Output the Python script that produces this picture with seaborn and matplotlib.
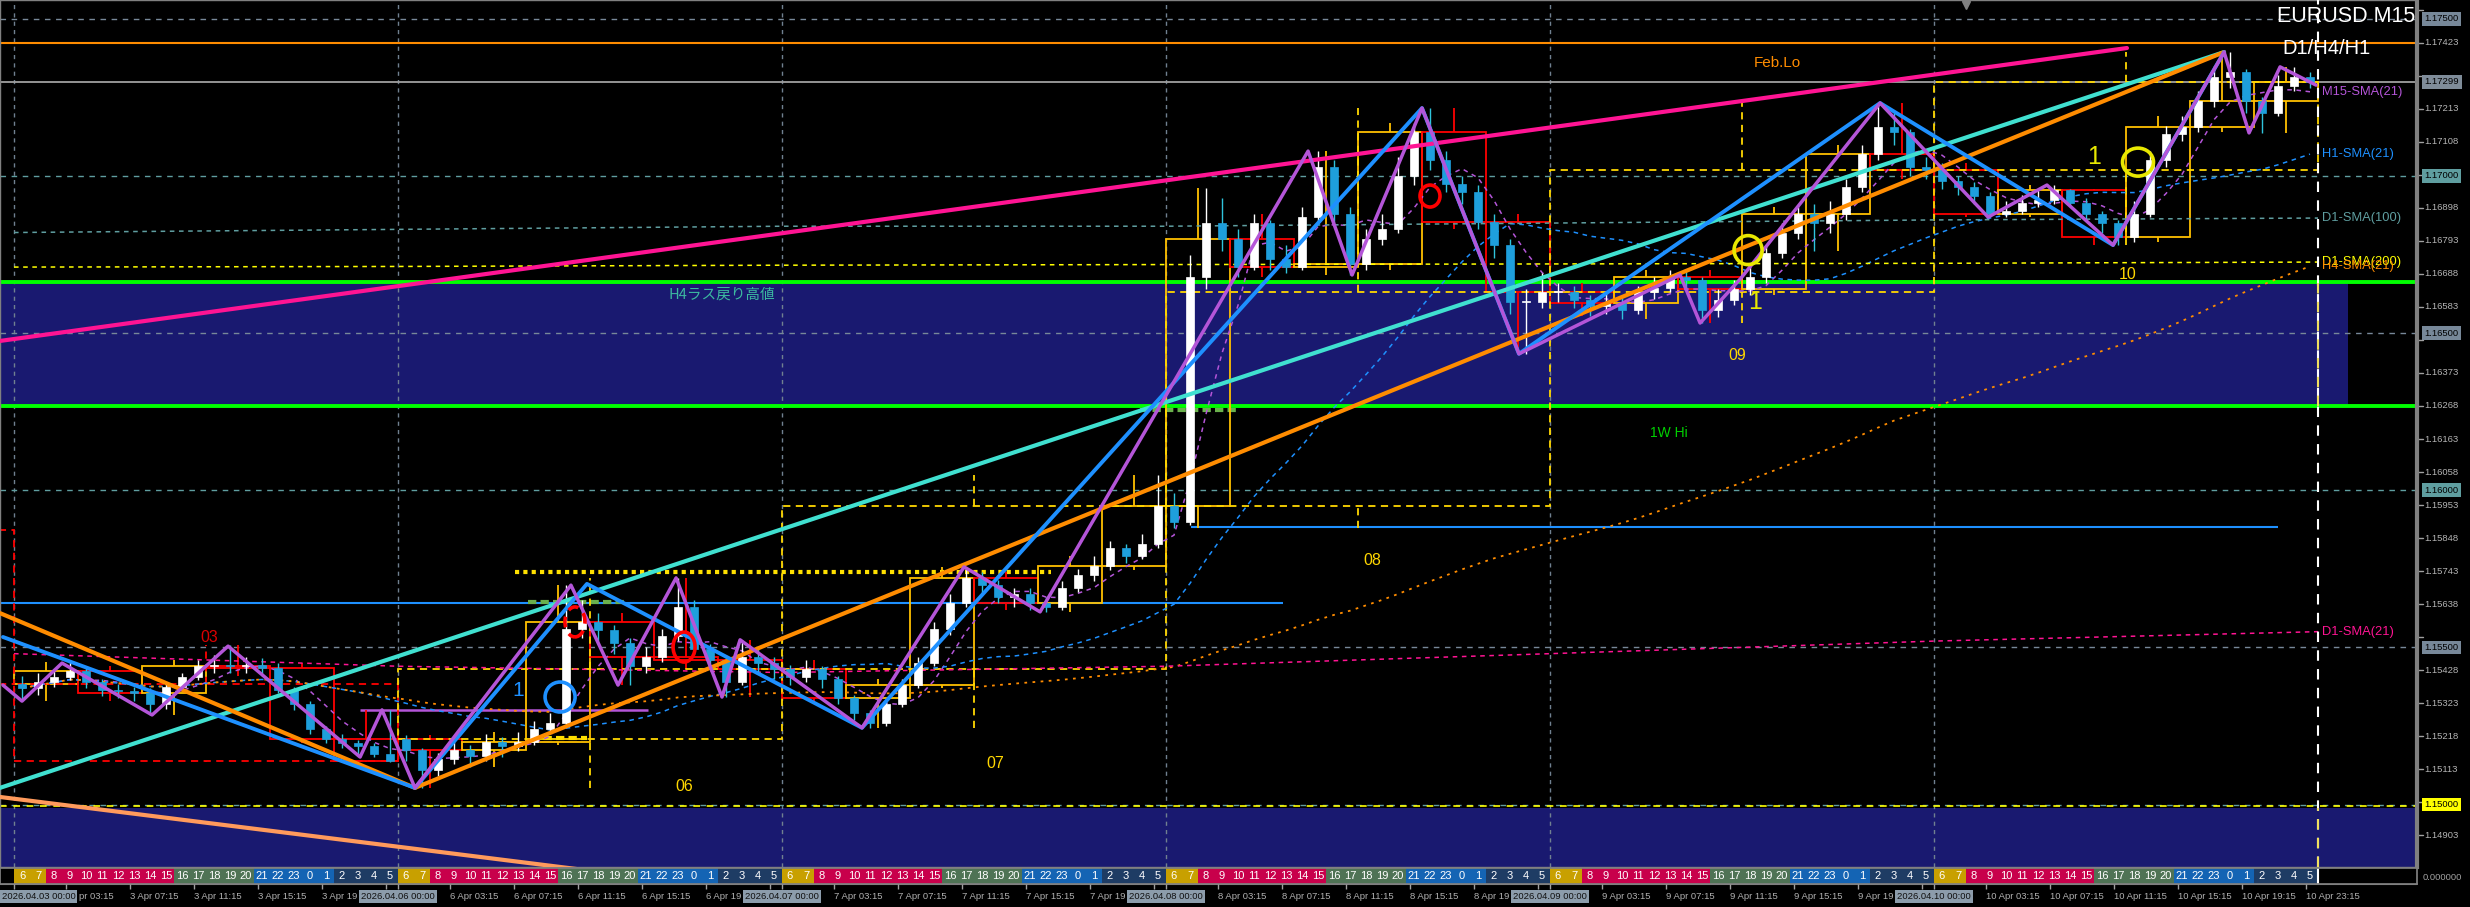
import numpy as np
import pandas as pd
import seaborn as sns
import matplotlib.pyplot as plt
import matplotlib.transforms as mtransforms
from matplotlib.patches import Rectangle, Ellipse

sns.set_theme(style="dark")
plt.rcParams['font.family'] = ['Liberation Sans', 'DejaVu Sans']

# ---------------- data: hourly bars, server time (hour 0 = 3 Apr 00:00) ----------------
day_names = ['03', '06', '07', '08', '09', '10']
first_open = 1.15385
monday_open = 1.15210

closes = [
    # 3 Apr
    1.15370, 1.15390, 1.15405, 1.15425, 1.15390, 1.15365, 1.15360, 1.15355, 1.15320, 1.15375, 1.15405, 1.15440,
    1.15445, 1.15440, 1.15445, 1.15435, 1.15365, 1.15320, 1.15240, 1.15210, 1.15195, 1.15185, 1.15160, 1.15140,
    # 6 Apr
    1.15175, 1.15110, 1.15145, 1.15175, 1.15155, 1.15200, 1.15185, 1.15200, 1.15240, 1.15260, 1.15560, 1.15580,
    1.15555, 1.15515, 1.15440, 1.15470, 1.15535, 1.15630, 1.15495, 1.15460, 1.15390, 1.15470, 1.15450, 1.15430,
    # 7 Apr
    1.15405, 1.15430, 1.15400, 1.15340, 1.15290, 1.15260, 1.15320, 1.15380, 1.15450, 1.15560, 1.15640, 1.15720,
    1.15700, 1.15660, 1.15670, 1.15640, 1.15630, 1.15690, 1.15730, 1.15760, 1.15815, 1.15790, 1.15830, 1.15950,
    # 8 Apr
    1.15900, 1.16680, 1.16850, 1.16800, 1.16710, 1.16850, 1.16735, 1.16710, 1.16870, 1.17030, 1.16880, 1.16720,
    1.16800, 1.16830, 1.17000, 1.17140, 1.17050, 1.16975, 1.16950, 1.16855, 1.16780, 1.16600, 1.16600, 1.16630,
    # 9 Apr
    1.16630, 1.16605, 1.16585, 1.16595, 1.16575, 1.16630, 1.16645, 1.16680, 1.16670, 1.16575, 1.16605, 1.16640,
    1.16680, 1.16755, 1.16820, 1.16880, 1.16850, 1.16880, 1.16965, 1.17070, 1.17155, 1.17140, 1.17030, 1.17020,
    # 10 Apr
    1.16985, 1.16965, 1.16935, 1.16880, 1.16890, 1.16915, 1.16925, 1.16955, 1.16915, 1.16880, 1.16850, 1.16805,
    1.16880, 1.17050, 1.17135, 1.17155, 1.17240, 1.17315, 1.17330, 1.17240, 1.17200, 1.17285, 1.17315, 1.17299,
]
highs = [
    1.15410, 1.15420, 1.15430, 1.15452, 1.15440, 1.15400, 1.15385, 1.15375, 1.15370, 1.15390, 1.15420, 1.15460,
    1.15475, 1.15506, 1.15470, 1.15465, 1.15450, 1.15375, 1.15330, 1.15250, 1.15225, 1.15205, 1.15195, 1.15302,
    1.15220, 1.15180, 1.15165, 1.15200, 1.15190, 1.15225, 1.15215, 1.15230, 1.15265, 1.15290, 1.15698, 1.15650,
    1.15610, 1.15570, 1.15530, 1.15500, 1.15560, 1.15721, 1.15650, 1.15510, 1.15475, 1.15524, 1.15495, 1.15470,
    1.15445, 1.15460, 1.15440, 1.15410, 1.15350, 1.15300, 1.15335, 1.15400, 1.15470, 1.15580, 1.15670, 1.15756,
    1.15740, 1.15715, 1.15690, 1.15690, 1.15660, 1.15710, 1.15750, 1.15790, 1.15840, 1.15830, 1.15860, 1.16049,
    1.15990, 1.16750, 1.16962, 1.16930, 1.16830, 1.16880, 1.16860, 1.16780, 1.16900, 1.17079, 1.17050, 1.16900,
    1.16830, 1.16880, 1.17060, 1.17170, 1.17216, 1.17080, 1.17000, 1.16970, 1.16880, 1.16800, 1.16640, 1.16690,
    1.16660, 1.16650, 1.16620, 1.16630, 1.16620, 1.16650, 1.16680, 1.16700, 1.16700, 1.16680, 1.16640, 1.16670,
    1.16720, 1.16780, 1.16850, 1.16900, 1.16910, 1.16920, 1.16990, 1.17100, 1.17232, 1.17200, 1.17150, 1.17060,
    1.17040, 1.17000, 1.16980, 1.16950, 1.16920, 1.16940, 1.16960, 1.16971, 1.16960, 1.16930, 1.16890, 1.16860,
    1.16920, 1.17080, 1.17160, 1.17190, 1.17270, 1.17350, 1.17394, 1.17340, 1.17250, 1.17320, 1.17347, 1.17330,
]
lows = [
    1.15330, 1.15350, 1.15375, 1.15395, 1.15370, 1.15345, 1.15340, 1.15330, 1.15286, 1.15305, 1.15360, 1.15395,
    1.15420, 1.15420, 1.15420, 1.15410, 1.15355, 1.15300, 1.15225, 1.15195, 1.15180, 1.15160, 1.15150, 1.15135,
    1.15140, 1.15053, 1.15090, 1.15130, 1.15120, 1.15140, 1.15150, 1.15170, 1.15190, 1.15225, 1.15250, 1.15530,
    1.15520, 1.15480, 1.15381, 1.15420, 1.15455, 1.15520, 1.15480, 1.15430, 1.15342, 1.15380, 1.15420, 1.15400,
    1.15380, 1.15390, 1.15370, 1.15320, 1.15270, 1.15244, 1.15250, 1.15310, 1.15370, 1.15440, 1.15540, 1.15630,
    1.15670, 1.15640, 1.15630, 1.15620, 1.15613, 1.15620, 1.15675, 1.15710, 1.15745, 1.15770, 1.15780, 1.15815,
    1.15880, 1.15890, 1.16640, 1.16760, 1.16680, 1.16700, 1.16700, 1.16690, 1.16700, 1.16850, 1.16850, 1.16685,
    1.16700, 1.16780, 1.16820, 1.16970, 1.17020, 1.16950, 1.16910, 1.16830, 1.16740, 1.16560, 1.16434, 1.16580,
    1.16600, 1.16580, 1.16555, 1.16560, 1.16545, 1.16560, 1.16610, 1.16630, 1.16640, 1.16532, 1.16550, 1.16590,
    1.16620, 1.16660, 1.16740, 1.16800, 1.16760, 1.16820, 1.16860, 1.16950, 1.17050, 1.17100, 1.17000, 1.16990,
    1.16960, 1.16940, 1.16910, 1.16869, 1.16870, 1.16880, 1.16900, 1.16910, 1.16900, 1.16860, 1.16820, 1.16780,
    1.16790, 1.16870, 1.17030, 1.17110, 1.17140, 1.17220, 1.17280, 1.17200, 1.17137, 1.17190, 1.17270, 1.17280,
]

# previous day (2 Apr), only its right edge is on screen
prev_day_open, prev_day_close = 1.15873, 1.15385

# zigzags (hour, price)
zz_m15_t = [-0.69, 0.5, 3.0, 8.63, 13.38, 21.63, 23.0, 25.06, 34.81, 37.75, 41.38, 44.25, 45.38,
            53.0, 59.38, 64.13, 80.88, 83.63, 88.0, 94.06, 104.13, 105.38, 107.94, 116.63,
            123.38, 127.06, 131.19, 138.13, 139.69, 141.63, 143.88]
zz_m15_p = [1.15380, 1.15329, 1.15450, 1.15285, 1.15504, 1.15151, 1.15301, 1.15053, 1.15698, 1.15380,
            1.15721, 1.15342, 1.15524, 1.15244, 1.15756, 1.15613, 1.17079, 1.16685, 1.17216, 1.16434,
            1.16685, 1.16532, 1.16675, 1.17232, 1.16869, 1.16971, 1.16780, 1.17394, 1.17137, 1.17347, 1.17289]
zz_h1_t = [-0.69, 25.06, 35.81, 53.0, 88.0, 94.06, 116.63, 131.19, 138.13]
zz_h1_p = [1.15533, 1.15053, 1.15702, 1.15244, 1.17216, 1.16434, 1.17232, 1.16780, 1.17394]

# trend lines (hour, price)
cyan_t, cyan_p = [-0.875, 138.13], [1.15053, 1.17394]
orange_up_t, orange_up_p = [25.06, 138.13], [1.15053, 1.17394]
orange_dn_t, orange_dn_p = [-0.875, 25.06], [1.15609, 1.15053]
salmon_t, salmon_p = [-0.875, 40.0], [1.15024, 1.14764]
pink_t, pink_p = [-0.875, 132.06], [1.16475, 1.17407]

# horizontal levels
feb_lo = 1.17423
bid = 1.17299
round_levels = [1.17500, 1.17000, 1.16500, 1.16000, 1.15500, 1.15000]
round_colors = ['#778899', '#5f9ea0', '#778899', '#5f9ea0', '#778899', '#5f9ea0']
zone_hi, zone_lo, zone_end = 1.16663, 1.16268, 145.9
low_zone_top = 1.14989
blue_levels = [(1.15641, -0.875, 79.3), (1.15883, 73.56, 141.5)]
purple_level = (1.15301, 21.6, 39.6)
yellow_dotted = (1.15740, 31.3, 64.8)
green_dashed = [(1.15644, 32.1, 38.4), (1.16255, 70.4, 76.4)]
yellow_dashed = (1.15212, 32.3, 35.8)

# daily SMAs (value at each day boundary)
d1_t = [0, 24, 48, 72, 96, 120, 144]
d1_sma21 = [1.15480, 1.15440, 1.15420, 1.15440, 1.15480, 1.15520, 1.15550]
d1_sma100 = [1.16820, 1.16830, 1.16840, 1.16840, 1.16850, 1.16860, 1.16866]
d1_sma200 = [1.16710, 1.16712, 1.16716, 1.16718, 1.16720, 1.16722, 1.16726]

# day labels (hour, price)
day_lbl_t = [12.2, 41.9, 61.3, 84.9, 107.7, 132.1]
day_lbl_p = [1.15530, 1.15056, 1.15129, 1.15775, 1.16430, 1.16685]

# circles: hour, price, width px, height px, color, dashed
circles = [(34.13, 1.15342, 30, 30, '#1e90ff', False),
           (35.06, 1.15581, 20, 30, '#ff0000', True),
           (41.88, 1.15501, 22, 30, '#ff0000', False),
           (88.50, 1.16936, 20, 22, '#ff0000', False),
           (108.38, 1.16764, 28, 29, '#e8e800', False),
           (132.75, 1.17044, 31, 28, '#e8e800', False)]
ones = [(31.5, 1.15364, '#1e90ff', 15), (108.8, 1.16599, '#e8e800', 18), (130.0, 1.17060, '#e8e800', 18)]

# ---------------- frame ----------------
W, H = 2470, 907
PX_H = 1 / 16.0            # hours per pixel
PX_P = 0.00105 / 33.0      # price per pixel
X0, X1 = -0.875, 150.1875
Y0, Y1 = 1.148012, 1.175598

fig = plt.figure(figsize=(W / 100, H / 100), dpi=100, facecolor='black')
ax = fig.add_axes([0, 40 / H, 2417 / W, 867 / H])
ax.set_facecolor('black')
ax.set_xlim(X0, X1)
ax.set_ylim(Y0, Y1)
ax.set_xticks([])
ax.set_yticks([])
ax.grid(False)
for s in ax.spines.values():
    s.set_color('#808080')
    s.set_linewidth(1)
ax.spines['right'].set_linewidth(3)

o = np.array([first_open] + closes[:-1])
o[24] = monday_open
c = np.array(closes)
hi = np.maximum(np.array(highs), np.maximum(o, c))
lo = np.minimum(np.array(lows), np.minimum(o, c))
hours = np.arange(len(c))
bars = pd.DataFrame({'t': hours, 'o': o, 'h': hi, 'l': lo, 'c': c})

# zones
ax.add_patch(Rectangle((X0, zone_lo), zone_end - X0, zone_hi - zone_lo, color='#191970', zorder=0, lw=0))
ax.add_patch(Rectangle((X0, Y0 - 0.01), X1 - X0, low_zone_top - Y0 + 0.01, color='#191970', zorder=0, lw=0))

# grid: day separators and round levels
for d in range(len(day_names)):
    ax.axvline(24 * d, color='#708090', ls=(0, (3, 3)), lw=1, zorder=1)
for lvl, col in zip(round_levels, round_colors):
    ax.axhline(lvl, color=col, ls=(0, (4, 4)), lw=1, zorder=1)
ax.axhline(1.15000 - 1.5 * PX_P, color='#ffff00', ls=(0, (4, 4)), lw=1.2, zorder=1)
ax.axhline(feb_lo, color='#ff8c00', lw=1.5, zorder=1)
ax.axhline(bid, color='#a0a0a0', lw=1.3, zorder=1)
ax.axhline(zone_hi, color='#00ff00', lw=2.8, zorder=2)
ax.axhline(zone_lo, color='#00ff00', lw=2.8, zorder=2)

for lvl, t0, t1 in blue_levels:
    ax.hlines(lvl, t0, t1, color='#1e90ff', lw=1.5, zorder=2)
ax.hlines(purple_level[0], purple_level[1], purple_level[2], color='#b455d8', lw=1.8, zorder=2)
ax.hlines(yellow_dotted[0], yellow_dotted[1], yellow_dotted[2], color='#ffe000', lw=3, ls=(0, (1, 1)), zorder=2)
for lvl, t0, t1 in green_dashed:
    ax.hlines(lvl, t0, t1, color='#6ab04c', lw=3, ls=(0, (2, 1)), zorder=2)
ax.hlines(yellow_dashed[0], yellow_dashed[1], yellow_dashed[2], color='#ffe000', lw=3, ls=(0, (2, 1)), zorder=2)


# higher-timeframe candles: D1 dashed, H4 solid
def htf_boxes(group, width, dashed):
    g = bars.groupby(group)
    agg = pd.DataFrame({'t': g.t.first(), 'o': g.o.first(), 'c': g.c.last(), 'h': g.h.max(), 'l': g.l.min()})
    ls = (0, (4, 3)) if dashed else '-'
    for _, r in agg.iterrows():
        col = '#ffd700' if r.c >= r.o else '#ff0000'
        if not dashed:
            col = '#ffc000' if r.c >= r.o else '#ff0000'
        top, bot = max(r.o, r.c), min(r.o, r.c)
        ax.add_patch(Rectangle((r.t, bot), width, max(top - bot, PX_P), fill=False, ec=col,
                               lw=1.3, ls=ls, zorder=2))
        mid = r.t + width / 2
        ax.vlines(mid, top, r.h, color=col, lw=1.3, ls=ls, zorder=2)
        ax.vlines(mid, r.l, bot, color=col, lw=1.3, ls=ls, zorder=2)


htf_boxes(bars.t // 4, 4, False)
htf_boxes(bars.t // 24, 24, True)
ax.add_patch(Rectangle((-24, prev_day_close), 24, prev_day_open - prev_day_close, fill=False,
                       ec='#ff0000', lw=1.3, ls=(0, (4, 3)), zorder=2))

for d, (name, t, p) in enumerate(zip(day_names, day_lbl_t, day_lbl_p)):
    col = '#ffd700' if c[24 * d + 23] >= o[24 * d] else '#dd0000'
    ax.text(t, p, name, color=col, fontsize=11.5, ha='center', va='center', zorder=6)

# moving averages
close_s = pd.Series(c, index=hours + 0.5)
sma_m15 = close_s.rolling(5, min_periods=1).mean()
sma_h1 = close_s.rolling(21, min_periods=1).mean()
sma_h4 = close_s.rolling(84, min_periods=1).mean()
sns.lineplot(x=sma_m15.index, y=sma_m15.values, ax=ax, color='#b455d8', lw=1.1, ls=(0, (3, 3)), zorder=3)
sns.lineplot(x=sma_h1.index, y=sma_h1.values, ax=ax, color='#1e90ff', lw=1.1, ls=(0, (3, 3)), zorder=3)
sns.lineplot(x=sma_h4.index, y=sma_h4.values, ax=ax, color='#ff8c00', lw=1.3, ls=(0, (1.5, 3)), zorder=3)
sns.lineplot(x=d1_t, y=d1_sma21, ax=ax, color='#ff1493', lw=1.1, ls=(0, (3, 3)), zorder=3)
sns.lineplot(x=d1_t, y=d1_sma100, ax=ax, color='#5f9ea0', lw=1.1, ls=(0, (3, 3)), zorder=3)
sns.lineplot(x=d1_t, y=d1_sma200, ax=ax, color='#ffff00', lw=1.1, ls=(0, (3, 3)), zorder=3)

sma_labels = [('M15-SMA(21)', sma_m15.iloc[-1], '#b455d8'), ('H1-SMA(21)', sma_h1.iloc[-1], '#1e90ff'),
              ('D1-SMA(100)', d1_sma100[-1], '#5f9ea0'), ('D1-SMA(200)', d1_sma200[-1], '#ffff00'),
              ('H4-SMA(21)', sma_h4.iloc[-1], '#ff8c00'), ('D1-SMA(21)', d1_sma21[-1], '#ff1493')]
for txt, val, col in sma_labels:
    ax.text(144.25, val, txt, color=col, fontsize=9.3, va='center', ha='left', zorder=6)

# candles
bull = c >= o
body_col = np.where(bull, '#ffffff', '#1e9fdc')
wick_col = np.where(bull, '#ffffff', '#2fc4dc')
ax.vlines(hours + 0.5, lo, hi, colors=wick_col, lw=1, zorder=4)
ax.bar(hours + 0.5, np.maximum(np.abs(c - o), PX_P), bottom=np.minimum(o, c), width=0.45,
       color=body_col, edgecolor=body_col, lw=0.5, zorder=4)

# trend lines and zigzags
ax.plot(salmon_t, salmon_p, color='#ff9a5c', lw=3, zorder=5)
ax.plot(pink_t, pink_p, color='#ff1493', lw=3, zorder=5)
ax.plot(cyan_t, cyan_p, color='#40e0d0', lw=3, zorder=5)
ax.plot(orange_up_t, orange_up_p, color='#ff8c00', lw=3, zorder=5)
ax.plot(orange_dn_t, orange_dn_p, color='#ff8c00', lw=3, zorder=5)
sns.lineplot(x=zz_h1_t, y=zz_h1_p, ax=ax, color='#1e90ff', lw=2.8, sort=False, estimator=None, zorder=5)
sns.lineplot(x=zz_m15_t, y=zz_m15_p, ax=ax, color='#b455d8', lw=2.5, sort=False, estimator=None, zorder=5)

for t, p, wpx, hpx, col, dash in circles:
    ax.add_patch(Ellipse((t, p), wpx * PX_H, hpx * PX_P, fill=False, ec=col, lw=2.6,
                         ls=(0, (3, 2)) if dash else '-', zorder=6))
for t, p, col, size in ones:
    ax.text(t, p, '1', color=col, fontsize=size, ha='center', va='center', zorder=6)

# current bar marker
ax.axvline(144, color='white', ls=(0, (5, 4)), lw=1.5, zorder=6)
ax.vlines(144, zone_lo, zone_hi, color='#f0e060', ls=(0, (5, 4)), lw=1.5, zorder=6)
ax.vlines(144, Y0, low_zone_top, color='#f0e060', ls=(0, (5, 4)), lw=1.5, zorder=6)
ax.plot([122.0], [1.17544], marker='v', color='#808080', ms=6, zorder=6)

# texts
ax.text(X1 - 0.1, 1.17506, 'EURUSD M15', color='white', fontsize=15.5, ha='right', va='center', zorder=7)
ax.text(141.8, 1.17407, 'D1/H4/H1', color='white', fontsize=14.5, ha='left', va='center', zorder=7)
ax.text(108.75, 1.17359, 'Feb.Lo', color='#ff8c00', fontsize=11, ha='left', va='center', zorder=6)
ax.text(40.9, 1.16621, 'H4ラス戻り高値', color='#3cb8a0', fontsize=10.5, ha='left', va='center',
        family=['Noto Sans CJK JP', 'DejaVu Sans'], zorder=6)
ax.text(102.25, 1.16182, '1W Hi', color='#00d000', fontsize=10, ha='left', va='center', zorder=6)

# right price scale
tr = mtransforms.blended_transform_factory(ax.transAxes, ax.transData)
scale_prices = [round(1.14903 + 0.00105 * k, 5) for k in range(26)]
tags = [(1.17500, '#778899'), (bid, '#7f8c99'), (1.17000, '#5f9ea0'), (1.16500, '#778899'),
        (1.16000, '#5f9ea0'), (1.15500, '#778899'), (1.15000, '#ffff00')]
tag_prices = [p for p, _ in tags]
for p in scale_prices:
    ax.plot([1.0, 1.0025], [p, p], color='#a0a0a0', lw=1, transform=tr, clip_on=False)
    # labels that sit under a highlighted tag are hidden in the reference
    if any(abs(p - q) < 0.00035 for q in tag_prices):
        continue
    ax.text(1.0032, p, f'{p:.5f}', color='#b4b4b4', fontsize=6.8, va='center', ha='left',
            transform=tr, clip_on=False)
for p, bg in tags:
    ax.text(1.0032, p, f'{p:.5f}', color='black', fontsize=6.8, va='center', ha='left', transform=tr,
            clip_on=False, bbox=dict(fc=bg, ec='none', pad=1.6))

# hour band
band_cols = {6: '#c8a000', 7: '#c8a000'}
for b in range(8, 16):
    band_cols[b] = '#c8004b'
for b in range(16, 21):
    band_cols[b] = '#4f7355'
for b in [21, 22, 23, 0, 1]:
    band_cols[b] = '#1464b4'
for b in range(2, 6):
    band_cols[b] = '#1e3c64'

axb = fig.add_axes([0, 23 / H, 2417 / W, 16 / H])
axb.set_facecolor('black')
axb.set_xlim(X0, X1)
axb.set_ylim(0, 1)
axb.set_xticks([])
axb.set_yticks([])
for s in axb.spines.values():
    s.set_color('#808080')
for h in hours:
    b = (h + 6) % 24
    axb.add_patch(Rectangle((h, 0), 1, 1, color=band_cols[b], lw=0))
    axb.text(h + 0.5, 0.5, str(b), color='white', fontsize=8, ha='center', va='center')
axb.axvline(144, color='white', lw=1.5)
fig.text(2423 / W, (907 - 877) / H, '0.000000', color='#a0a0a0', fontsize=6.8, va='center')

# time axis (labels partly hidden behind the date boxes are cut as in the reference)
axt = fig.add_axes([0, 0, 2417 / W, 23 / H])
axt.set_facecolor('black')
axt.set_xlim(X0, X1)
axt.set_ylim(0, 1)
axt.axis('off')
axt.axhline(1.0, color='#808080', lw=1.5)
last = len(day_names) - 1
for d, name in enumerate(day_names):
    for k in range(6):
        t = 24 * d + 3.25 + 4 * k
        hh = 3 + 4 * k
        axt.vlines(t, 0.78, 1.0, color='#a0a0a0', lw=1)
        label = f'{int(name)} Apr {hh:02d}:15'
        if d == 0 and k == 0:
            axt.text(t + 3.0, 0.45, 'pr 03:15', color='#b0b0b0', fontsize=6.8, ha='right', va='center')
            continue
        if hh == 23 and d != last:
            continue
        if hh == 19 and d != last:
            label = f'{int(name)} Apr 19'
        axt.text(t, 0.45, label, color='#b0b0b0', fontsize=6.8, ha='left', va='center', zorder=2)
    axt.vlines(24 * d, 0.78, 1.0, color='#a0a0a0', lw=1)
    axt.text(24 * d if d else X0 + 0.1, 0.45, f'2026.04.{name} 00:00', color='#101010', fontsize=6.8,
             ha='center' if d else 'left', va='center', zorder=5,
             bbox=dict(fc='#8c9cab', ec='none', pad=1.5))

fig.savefig('out.png', dpi=100, facecolor='black')
